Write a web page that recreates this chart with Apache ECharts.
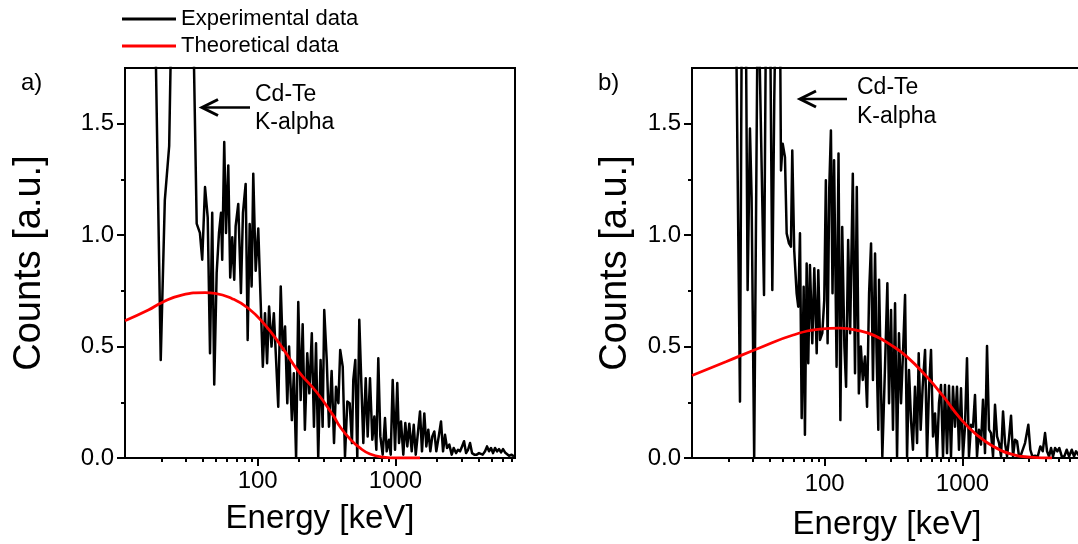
<!DOCTYPE html>
<html><head><meta charset="utf-8">
<script src="https://cdn.jsdelivr.net/npm/echarts@6/dist/echarts.min.js"></script>
<style>html,body{margin:0;padding:0;background:#fff}#c{width:1078px;height:544px}</style>
</head><body><div id="c"></div>
<script>
// ---------- data (energy in keV, counts in a.u.) ----------
const seriesNames = ['Experimental data', 'Theoretical data'];
const panelLabels = ['a)', 'b)'];
const annotationLines = ['Cd-Te', 'K-alpha'];
const xMajorTicks = [100, 1000];
const xMinorTicks = [20,30,40,50,60,70,80,90,200,300,400,500,600,700,800,900,2000,3000,4000,5000,6000,7000];
const yMajorTicks = [0, 0.5, 1.0, 1.5];
const yMinorTicks = [0.25, 0.75, 1.25];

const expA_E = [17.8,19.8,21.2,22.8,24.3,26.4,29.2,32.3,36.1,38.1,39.6,41.5,43.4,45.1,46.8,48.4,50.4,52.4,54.2,55.3,57.2,58.9,61.2,63.2,65.4,67.6,69.2,72.3,75.6,78.2,81.8,84.6,87.5,90.4,92.9,96.7,101,105,109,113,117,121,126,131,136,141,147,152,158,164,169,177,183,190,197,205,212,220,229,237,247,256,265,275,286,296,304,317,329,344,358,370,385,397,414,430,447,465,483,494,511,528,546,565,584,608,628,653,679,702,726,750,776,807,839,863,897,923,954,992,1030,1060,1096,1139,1178,1218,1259,1311,1356,1402,1449,1506,1556,1618,1673,1729,1789,1849,1912,1977,2059,2138,2212,2287,2365,2456,2557,2644,2748,2842,2939,3039,3142,3249,3359,3473,3591,3733,3883,4036,4150,4292,4462,4613,4770,4932,5099,5272,5452,5637,5829,6026,6231,6442,6663,6966,7244];
const expA_V = [2.2,0.44,1.157,1.40,2.4,3.0,2.6,2.8,1.052,1.01,0.89,1.216,1.08,0.47,1.10,0.33,0.83,1.01,1.10,0.89,1.418,1.01,1.313,0.81,0.99,0.80,1.04,1.14,0.74,1.10,1.23,0.53,1.05,0.77,1.276,0.84,1.03,0.71,0.41,0.65,0.425,0.68,0.50,0.65,0.44,0.23,0.77,0.485,0.59,0.246,0.50,0.17,0.38,0.0,0.70,0.26,0.60,0.127,0.47,0.29,0.56,0.14,0.515,0.0,0.44,0.14,0.664,0.44,0.14,0.39,0.067,0.32,0.246,0.485,0.41,0.007,0.253,0.246,0.067,0.35,0.44,0.0,0.62,0.336,0.067,0.358,0.097,0.358,0.082,0.186,0.037,0.448,0.097,0.015,0.179,0.03,0.082,0.015,0.35,0.037,0.336,0.067,0.164,0.015,0.157,0.052,0.154,0.03,0.149,0.015,0.104,0.209,0.03,0.20,0.052,0.127,0.03,0.097,0.119,0.03,0.097,0.164,0.03,0.104,0.045,0.06,0.015,0.045,0.022,0.037,0.03,0.052,0.075,0.022,0.037,0.067,0.022,0.015,0.015,0.022,0.03,0.015,0.03,0.052,0.03,0.045,0.022,0.045,0.03,0.04,0.025,0.04,0.025,0.03,0.01,0.015,0.007];

const theoA_E = [10.9,16.1,20.1,28.1,41.5,49,64.8,85.5,113,149,197,268,354,396,468,552,653,815,1021,1506];
const theoA_V = [0.616,0.664,0.697,0.731,0.742,0.739,0.716,0.672,0.597,0.50,0.39,0.295,0.19,0.14,0.085,0.045,0.018,0.004,0.0,0.0];

const expB_E = [22.3,24.3,25.2,26.4,27.6,28.7,29.5,30.8,32.8,36.3,37.8,39.7,41.7,43.1,45.1,47.4,48.2,49.6,51.5,53.0,55.1,56.9,58.2,60.1,62.6,64.3,66.2,68.1,70.4,71.9,74.0,76.0,78.2,81.3,84.1,87.5,89.9,92.5,96.1,99.3,102,105,108,111,114,117,122,126,130,134,139,143,148,153,160,166,171,177,183,189,196,203,210,217,224,232,238,245,248,262,274,285,293,303,313,324,335,346,358,370,383,396,409,423,437,452,468,481,497,514,535,553,571,591,611,632,653,675,698,722,746,772,798,825,853,882,912,943,975,1008,1042,1078,1114,1153,1192,1232,1274,1317,1362,1408,1456,1506,1557,1610,1665,1721,1780,1841,1903,1968,2035,2104,2175,2249,2326,2404,2486,2570,2658,2748,2842,3003,3105,3210,3359,3514,3670,3819,3970,4104,4244,4388,4537,4691,4875,5041,5248,5479,5702,5928,6202,6442,6663,7005,7244];
const expB_V = [2.5,0.253,2.4,2.6,0.754,1.478,1.17,0.0,2.2,0.731,2.3,2.4,0.754,1.62,2.4,2.0,1.29,1.41,1.35,1.008,0.963,0.948,1.38,0.933,0.739,0.679,1.008,0.179,0.768,0.104,0.873,0.425,0.866,0.515,0.851,0.47,0.843,0.53,0.56,0.709,1.246,0.515,1.216,1.47,0.739,1.336,0.41,1.366,0.17,1.037,0.50,0.32,0.978,0.56,1.276,0.38,1.216,0.29,0.50,0.35,0.455,0.23,0.739,0.963,0.35,0.918,0.47,0.127,0.80,0.007,0.41,0.784,0.246,0.664,0.127,0.694,0.007,0.56,0.246,0.47,0.731,0.007,0.395,0.17,0.037,0.32,0.067,0.47,0.127,0.32,0.485,0.007,0.306,0.485,0.097,0.20,0.007,0.246,0.328,0.007,0.328,0.022,0.324,0.007,0.32,0.14,0.32,0.037,0.313,0.007,0.14,0.448,0.007,0.149,0.14,0.283,0.007,0.127,0.06,0.261,0.022,0.503,0.127,0.112,0.007,0.239,0.097,0.067,0.007,0.209,0.067,0.007,0.09,0.19,0.007,0.082,0.075,0.007,0.015,0.007,0.067,0.149,0.037,0.007,0.01,0.007,0.052,0.03,0.112,0.03,0.007,0.045,0.007,0.045,0.03,0.045,0.007,0.007,0.037,0.007,0.037,0.007,0.03,0.01,0.02];

const theoB_E = [10.9,19.4,33.9,59.2,92.5,129,181,232,298,394,550,726,959,1268,1673,2326,3090,4462];
const theoB_V = [0.37,0.433,0.495,0.552,0.578,0.583,0.570,0.548,0.51,0.455,0.365,0.276,0.179,0.104,0.052,0.015,0.004,0.0];

// ---------- chart ----------
const FONT = 'Liberation Sans';
const pairs = (xs, ys) => xs.map((x, i) => [x, ys[i]]);
const grids = [
  {left: 125, top: 68, width: 390, height: 390},
  {left: 692, top: 68, width: 390, height: 390}
];
const xLabelMargin = [11, 14];
const xNameGap = [44, 50];
const yNameGap = [76, 57];

const xAxes = [], yAxes = [];
grids.forEach((g, gi) => {
  xAxes.push({
    type: 'log', logBase: 10, gridIndex: gi, position: 'bottom', min: 10.9, max: 7360,
    name: 'Energy [keV]', nameLocation: 'middle', nameGap: xNameGap[gi],
    nameTextStyle: {fontFamily: FONT, fontSize: 33, color: '#000'},
    axisLine: {onZero: false, lineStyle: {color: '#000', width: 2}},
    axisTick: {show: true, customValues: xMajorTicks, length: 8, lineStyle: {color: '#000', width: 2}},
    axisLabel: {customValues: xMajorTicks, margin: xLabelMargin[gi], fontFamily: FONT, fontSize: 24, color: '#000',
      formatter: v => String(Math.round(v))},
    splitLine: {show: false}
  });
  xAxes.push({
    type: 'log', logBase: 10, gridIndex: gi, position: 'bottom', min: 10.9, max: 7360,
    axisLine: {show: false, onZero: false},
    axisTick: {show: true, customValues: xMinorTicks, length: 4, lineStyle: {color: '#000', width: 2}},
    axisLabel: {show: false}, splitLine: {show: false}
  });
  yAxes.push({
    type: 'value', gridIndex: gi, position: 'left', min: 0, max: 1.75,
    name: 'Counts [a.u.]', nameLocation: 'middle', nameGap: yNameGap[gi], nameRotate: 90,
    nameTextStyle: {fontFamily: FONT, fontSize: 38, color: '#000'},
    axisLine: {show: true, onZero: false, lineStyle: {color: '#000', width: 2}},
    axisTick: {show: true, customValues: yMajorTicks, length: 8, lineStyle: {color: '#000', width: 2}},
    axisLabel: {customValues: yMajorTicks, margin: 11, fontFamily: FONT, fontSize: 24, color: '#000',
      formatter: v => v.toFixed(1)},
    splitLine: {show: false}
  });
  yAxes.push({
    type: 'value', gridIndex: gi, position: 'left', min: 0, max: 1.75,
    axisLine: {show: false, onZero: false},
    axisTick: {show: true, customValues: yMinorTicks, length: 4, lineStyle: {color: '#000', width: 2}},
    axisLabel: {show: false}, splitLine: {show: false}
  });
});

const lineSeries = (name, data, gi, color, width, smooth) => ({
  name, type: 'line', data, xAxisIndex: gi * 2, yAxisIndex: gi * 2,
  showSymbol: false, symbol: 'none', smooth, clip: true, animation: false,
  lineStyle: {color, width, join: 'round'}, itemStyle: {color}, z: color === '#000000' ? 2 : 3
});

const series = [
  lineSeries(seriesNames[0], pairs(expA_E, expA_V), 0, '#000000', 2.5, false),
  lineSeries(seriesNames[1], pairs(theoA_E, theoA_V), 0, '#ff0000', 2.8, true),
  lineSeries(seriesNames[0], pairs(expB_E, expB_V), 1, '#000000', 2.5, false),
  lineSeries(seriesNames[1], pairs(theoB_E, theoB_V), 1, '#ff0000', 2.8, true)
];

function arrow(tipX, tipY, endX) {
  return [
    {type: 'line', shape: {x1: tipX + 2, y1: tipY, x2: endX, y2: tipY}, style: {stroke: '#000', lineWidth: 2.5}},
    {type: 'polyline', shape: {points: [[tipX + 16, tipY - 8], [tipX, tipY], [tipX + 16, tipY + 8]]},
      style: {stroke: '#000', lineWidth: 3, fill: null}}
  ];
}
const txt = (x, y, s, size) => ({type: 'text', x, y,
  style: {text: s, font: size + 'px "' + FONT + '"', fill: '#000', verticalAlign: 'middle'}});

const graphic = [
  ...arrow(202, 107.5, 250),
  ...arrow(800, 99, 847),
  txt(255, 95, annotationLines[0], 23), txt(255, 123, annotationLines[1], 23),
  txt(857, 88, annotationLines[0], 23), txt(857, 117, annotationLines[1], 23),
  txt(21, 83, panelLabels[0], 24), txt(598, 83, panelLabels[1], 24)
];

const chart = echarts.init(document.getElementById('c'), null, {renderer: 'canvas'});
chart.setOption({
  animation: false,
  backgroundColor: '#fff',
  grid: grids.map(g => Object.assign({show: true, borderColor: '#000', borderWidth: 2, backgroundColor: 'transparent',
    containLabel: false, outerBoundsMode: 'none'}, g)),
  legend: {
    data: seriesNames, orient: 'vertical', left: 122, top: 8, padding: 0, itemWidth: 54, itemHeight: 3, icon: 'rect', itemGap: 5,
    textStyle: {fontFamily: FONT, fontSize: 22, color: '#000'}, selectedMode: false
  },
  xAxis: xAxes, yAxis: yAxes, series, graphic
});
</script></body></html>
